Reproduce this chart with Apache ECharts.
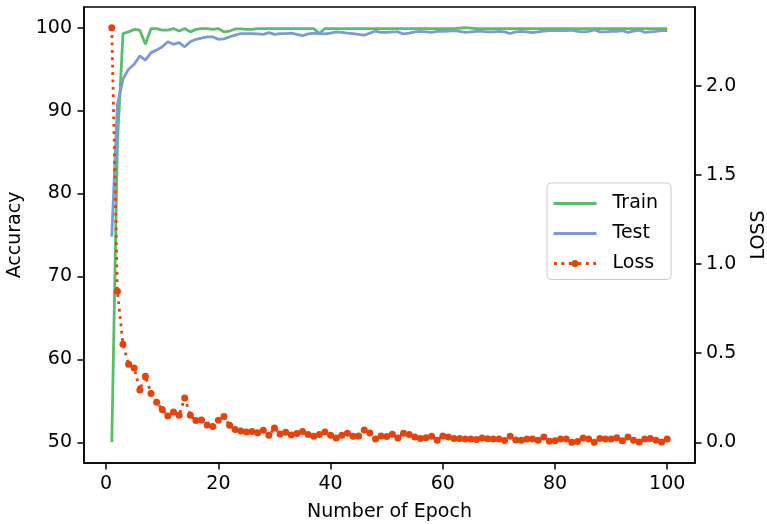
<!DOCTYPE html>
<html><head><meta charset="utf-8">
<script src="https://cdn.jsdelivr.net/npm/echarts@6/dist/echarts.min.js"></script>
<style>html,body{margin:0;padding:0;background:#fff}#c{width:767px;height:524px}</style>
</head><body><div id="c"></div>
<script>
const trainAcc = [50.0,86.0,99.3,99.5,99.8,99.7,98.0,99.9,99.9,99.7,
99.7,99.9,99.6,99.9,99.5,99.8,99.9,99.9,99.8,99.9,
99.5,99.6,99.85,99.85,99.8,99.8,99.9,99.9,99.9,99.9,
99.9,99.9,99.9,99.9,99.9,99.9,99.9,99.3,99.9,99.9,
99.9,99.9,99.9,99.9,99.9,99.9,99.9,99.88,99.9,99.9,
99.9,99.9,99.9,99.9,99.9,99.9,99.9,99.88,99.9,99.9,
99.9,99.9,99.95,100.0,99.95,99.9,99.9,99.9,99.9,99.9,
99.9,99.9,99.9,99.9,99.9,99.9,99.9,99.9,99.9,99.9,
99.9,99.9,99.9,99.9,99.9,99.9,99.9,99.9,99.9,99.9,
99.9,99.9,99.9,99.9,99.9,99.9,99.9,99.9,99.9,99.9];
const testAcc = [74.8,90.7,93.8,95.0,95.6,96.6,96.1,97.0,97.3,97.7,
98.3,98.0,98.2,97.7,98.3,98.6,98.75,98.9,98.9,98.6,
98.65,98.9,99.1,99.3,99.3,99.3,99.25,99.2,99.4,99.2,
99.3,99.3,99.35,99.2,99.05,99.25,99.35,99.3,99.25,99.35,
99.5,99.45,99.35,99.3,99.2,99.1,99.35,99.6,99.45,99.45,
99.5,99.5,99.25,99.35,99.5,99.55,99.5,99.45,99.55,99.55,
99.6,99.65,99.55,99.45,99.5,99.55,99.55,99.5,99.5,99.55,
99.5,99.3,99.5,99.55,99.5,99.4,99.5,99.6,99.65,99.65,
99.65,99.65,99.7,99.55,99.5,99.55,99.75,99.5,99.5,99.55,
99.55,99.65,99.45,99.6,99.7,99.45,99.5,99.55,99.65,99.65];
const lossVals = [2.326,0.848,0.55,0.438,0.417,0.294,0.371,0.273,0.225,0.184,
0.148,0.17,0.152,0.249,0.152,0.122,0.125,0.097,0.088,0.124,
0.144,0.095,0.071,0.063,0.058,0.06,0.054,0.067,0.039,0.08,
0.047,0.056,0.041,0.049,0.06,0.043,0.034,0.043,0.058,0.039,
0.024,0.039,0.051,0.034,0.035,0.069,0.052,0.019,0.035,0.032,
0.045,0.024,0.051,0.043,0.03,0.021,0.026,0.034,0.011,0.035,
0.03,0.021,0.021,0.019,0.019,0.015,0.024,0.02,0.019,0.019,
0.01,0.034,0.013,0.011,0.019,0.019,0.011,0.03,0.006,0.009,
0.019,0.019,0.0,0.004,0.024,0.019,0.0,0.021,0.019,0.019,
0.026,0.008,0.03,0.011,0.002,0.019,0.021,0.011,0.002,0.019];
const xTicks = [0,20,40,60,80,100];
const accTicks = [50,60,70,80,90,100];
const lossTicks = [0,0.5,1.0,1.5,2.0];
const epochs = trainAcc.map((v,i)=>i+1);

const FONT = 'DejaVu Sans';
const FS = 19;
const tickStyle = {show:true, inside:false, length:6.5, lineStyle:{color:'#000', width:1.5}};
const lineAx = {show:true, onZero:false, lineStyle:{color:'#000', width:1.5}};
const labelStyle = {color:'#000', fontFamily:FONT, fontSize:FS};
const pair = arr => arr.map((v,i)=>[epochs[i], v]);

// legend icons (43 x 20 box): solid line, and dotted line with a dot marker
const solidIcon = 'path://M0,0L0.01,0L0.01,0.01L0,0.01Z M0,8.6L43,8.6L43,11.4L0,11.4Z M42.99,19.99L43,19.99L43,20L42.99,20Z';
let dotted = 'path://M0,0L0.01,0L0.01,0.01L0,0.01Z M42.99,19.99L43,19.99L43,20L42.99,20Z';
[0.5,7.9,15.3,25,32.4,39.8].forEach(x=>{dotted += ` M${x},8.6L${x+2.8},8.6L${x+2.8},11.4L${x},11.4Z`;});
dotted += ' M18,10A3.5,3.5 0 1 0 25,10A3.5,3.5 0 1 0 18,10Z';

const chart = echarts.init(document.getElementById('c'), null, {renderer:'canvas'});
chart.setOption({
  animation:false,
  backgroundColor:'#fff',
  grid:{left:84, right:72, top:7, bottom:61, outerBoundsMode:'none', containLabel:false,
    show:true, borderColor:'#000', borderWidth:1.5, backgroundColor:'transparent'},
  xAxis:{type:'value', min:-3.95, max:104.95,
    name:'Number of Epoch', nameLocation:'middle', nameGap:40,
    nameTextStyle:{color:'#000', fontFamily:FONT, fontSize:FS},
    axisLine:lineAx, splitLine:{show:false},
    axisTick:Object.assign({customValues:xTicks}, tickStyle),
    axisLabel:Object.assign({customValues:xTicks, margin:12}, labelStyle)},
  yAxis:[
    {type:'value', min:47.5, max:102.5, position:'left',
     name:'Accuracy', nameLocation:'middle', nameGap:58, nameRotate:90,
     nameTextStyle:{color:'#000', fontFamily:FONT, fontSize:FS},
     axisLine:lineAx, splitLine:{show:false},
     axisTick:Object.assign({customValues:accTicks}, tickStyle),
     axisLabel:Object.assign({customValues:accTicks, margin:12}, labelStyle)},
    {type:'value', min:-0.1163, max:2.4423, position:'right',
     name:'LOSS', nameLocation:'middle', nameGap:55, nameRotate:90,
     nameTextStyle:{color:'#000', fontFamily:FONT, fontSize:FS},
     axisLine:lineAx, splitLine:{show:false},
     axisTick:Object.assign({customValues:lossTicks}, tickStyle),
     axisLabel:Object.assign({customValues:lossTicks, margin:11, formatter:v=>v.toFixed(1)}, labelStyle)}
  ],
  legend:{orient:'vertical', left:547, top:183,
    padding:[10.5,13,6,6.5], itemWidth:43, itemHeight:20, itemGap:10,
    backgroundColor:'rgba(255,255,255,0.8)', borderColor:'#cccccc', borderWidth:1, borderRadius:4,
    itemStyle:{borderWidth:0},
    textStyle:{color:'#000', fontFamily:FONT, fontSize:FS, lineHeight:20, padding:[0,0,0,11]},
    data:[{name:'Train', icon:solidIcon},{name:'Test', icon:solidIcon},{name:'Loss', icon:dotted}]},
  series:[
    {name:'Train', type:'line', yAxisIndex:0, data:pair(trainAcc), symbol:'none', color:'#58be6a',
     lineStyle:{width:2.8, color:'#58be6a'}},
    {name:'Test', type:'line', yAxisIndex:0, data:pair(testAcc), symbol:'none', color:'#7a9bd6',
     lineStyle:{width:2.8, color:'#7a9bd6'}},
    {name:'Loss', type:'line', yAxisIndex:1, data:pair(lossVals), symbol:'circle', symbolSize:7, showSymbol:true,
     color:'#e8420c', itemStyle:{color:'#e8420c'},
     lineStyle:{width:2.8, type:[2.8,4.6], color:'#e8420c'}}
  ]
});
</script></body></html>
